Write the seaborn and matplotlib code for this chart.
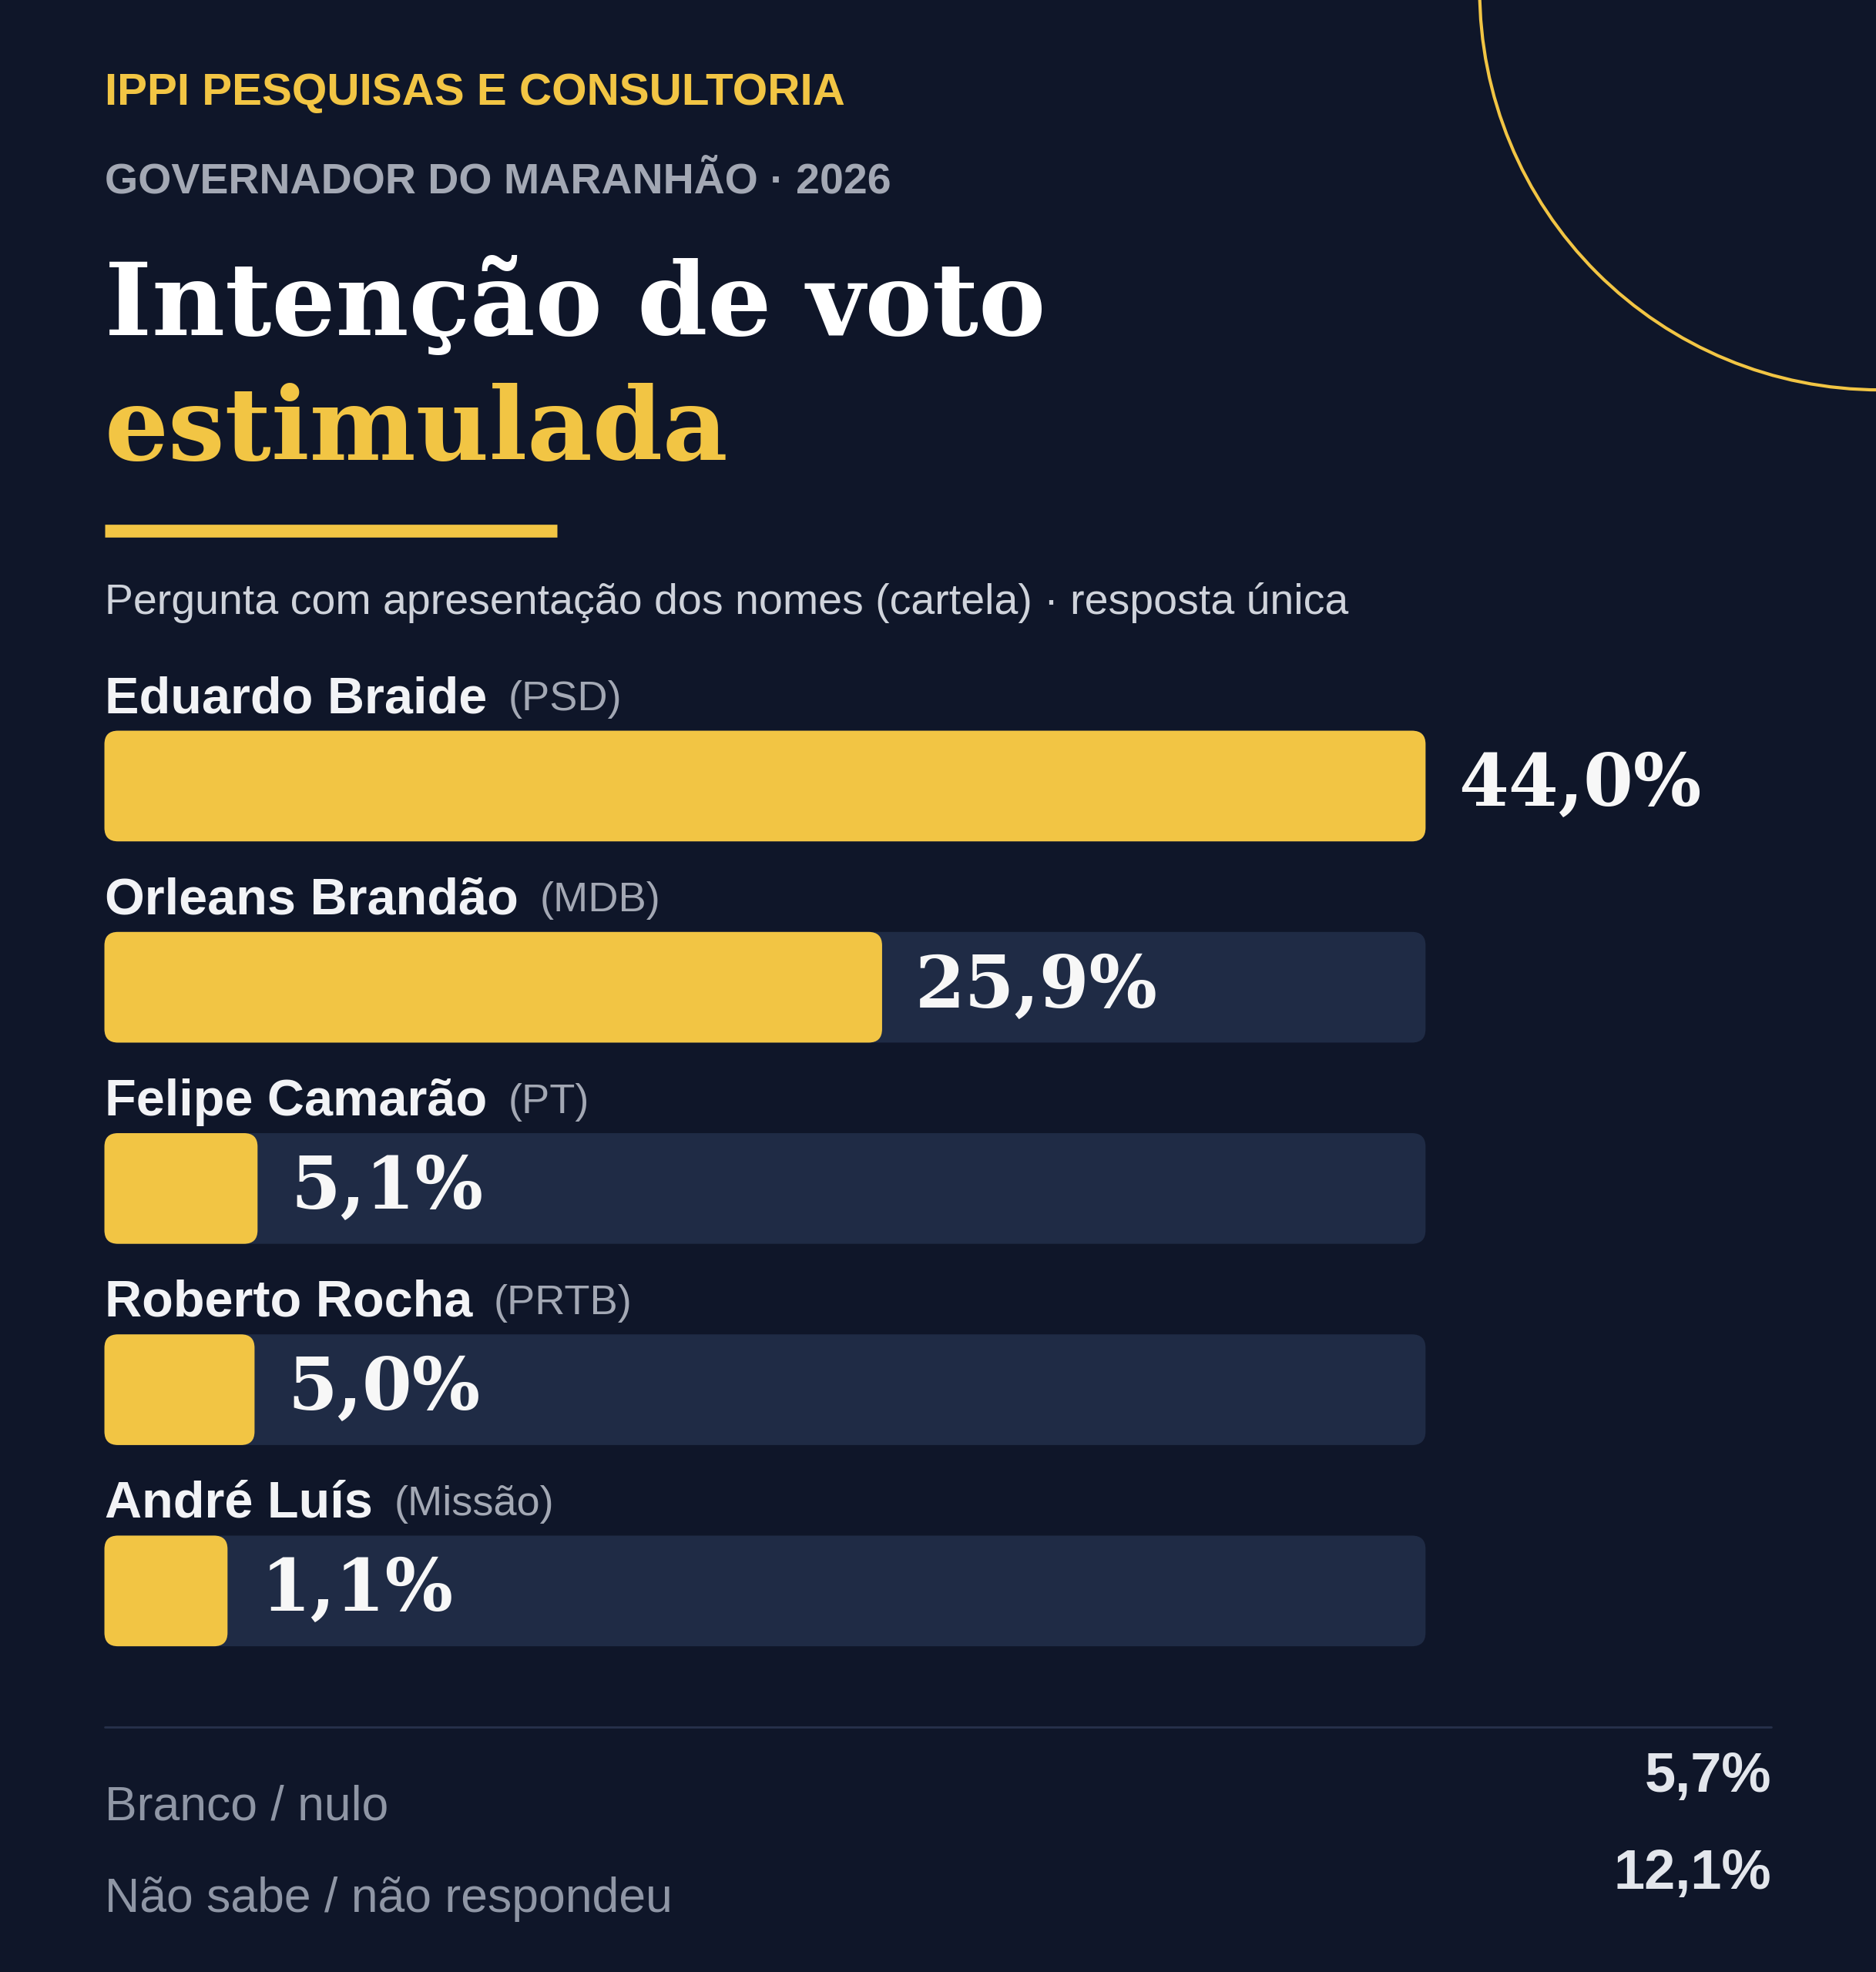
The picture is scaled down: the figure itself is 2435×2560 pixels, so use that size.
import numpy as np
import pandas as pd
import seaborn as sns
import matplotlib.pyplot as plt
from matplotlib.patches import FancyBboxPatch, Circle

# dados
candidatos = ["Eduardo Braide", "Orleans Brandão", "Felipe Camarão", "Roberto Rocha", "André Luís"]
partidos = ["(PSD)", "(MDB)", "(PT)", "(PRTB)", "(Missão)"]
votos = [44.0, 25.9, 5.1, 5.0, 1.1]
outros_rotulos = ["Branco / nulo", "Não sabe / não respondeu"]
outros_valores = [5.7, 12.1]

BG = "#0f1629"
TRACK = "#1f2b45"
YEL = "#f2c544"
SANS = "Liberation Sans"
SERIF = "DejaVu Serif"
MIN_W = 4.1  # largura minima visual da barra

sns.set_theme(style="white")
plt.rcParams["font.family"] = [SANS, "DejaVu Sans"]

W, H = 1491, 1568  # coordenadas de layout
fig = plt.figure(figsize=(24.35, 25.6), dpi=100, facecolor=BG)

bg = fig.add_axes([0, 0, 1, 1])
bg.set_xlim(0, W)
bg.set_ylim(H, 0)
bg.axis("off")
bg.set_facecolor(BG)

bg.add_patch(Circle((1494, -8), 318, fill=False, ec=YEL, lw=3))

bg.text(83, 74, "IPPI PESQUISAS E CONSULTORIA", color=YEL, fontsize=42, fontweight="bold", va="center")
bg.text(83, 145, "GOVERNADOR DO MARANHÃO · 2026", color="#a3a8b4", fontsize=40, fontweight="bold", va="center")
bg.text(83, 243, "Intenção de voto", color="white", fontsize=94, fontweight="bold", family=SERIF, va="center")
bg.text(83, 343, "estimulada", color=YEL, fontsize=94, fontweight="bold", family=SERIF, va="center")
bg.plot([83, 443], [422, 422], color=YEL, lw=12, solid_capstyle="butt")
bg.text(83, 479, "Pergunta com apresentação dos nomes (cartela) · resposta única", color="#cfd3db", fontsize=40, va="center")

bg.plot([83, 1408], [1373, 1373], color="#27314b", lw=2)
for lab, val, yl, yv in zip(outros_rotulos, outros_valores, [1437, 1510], [1413, 1490]):
    bg.text(83, yl, lab, color="#8f96a5", fontsize=45, va="center")
    bg.text(1408, yv, f"{val:.1f}%".replace(".", ","), color="#e3e6ec", fontsize=52,
            fontweight="bold", va="center", ha="right")

# barras
ax = fig.add_axes([83 / W, 1 - 1345 / H, 1050 / W, 800 / H])
ax.set_facecolor("none")
df = pd.DataFrame({"nome": candidatos, "voto": votos, "max": [max(votos)] * len(votos)})
df["largura"] = np.maximum(df["voto"], MIN_W)
sns.barplot(data=df, y="nome", x="max", color=TRACK, saturation=1, width=0.55, ax=ax, orient="h")
sns.barplot(data=df, y="nome", x="largura", color=YEL, saturation=1, width=0.55, ax=ax, orient="h")
ax.set_xlim(0, max(votos))
ax.set_ylim(4.5, -0.5)
ax.axis("off")

aspect = (1 / 160) / (1 / (1050 / max(votos)))
for p in list(ax.patches):
    x0, y0, w, h = p.get_x(), p.get_y(), p.get_width(), p.get_height()
    fc = p.get_facecolor()
    p.remove()
    ax.add_patch(FancyBboxPatch((x0, y0), w, h, boxstyle="round,pad=0,rounding_size=0.45",
                                mutation_aspect=aspect, fc=fc, ec="none", clip_on=False))

for i, (n, pt, v, lw_) in enumerate(zip(candidatos, partidos, votos, df["largura"])):
    t = ax.text(0, i - 0.43, n, color="#f2f3f6", fontsize=48, fontweight="bold", va="center")
    ax.annotate(pt, xy=(1, 0.5), xycoords=t, xytext=(20, 0), textcoords="offset points",
                color="#a3a8b4", fontsize=39, va="center")
    ax.text(lw_ + 1.1, i, f"{v:.1f}%".replace(".", ","), color="#f7f7f7", fontsize=67,
            fontweight="bold", family=SERIF, va="center", clip_on=False)

fig.savefig("out.png", dpi=100, facecolor=BG)
